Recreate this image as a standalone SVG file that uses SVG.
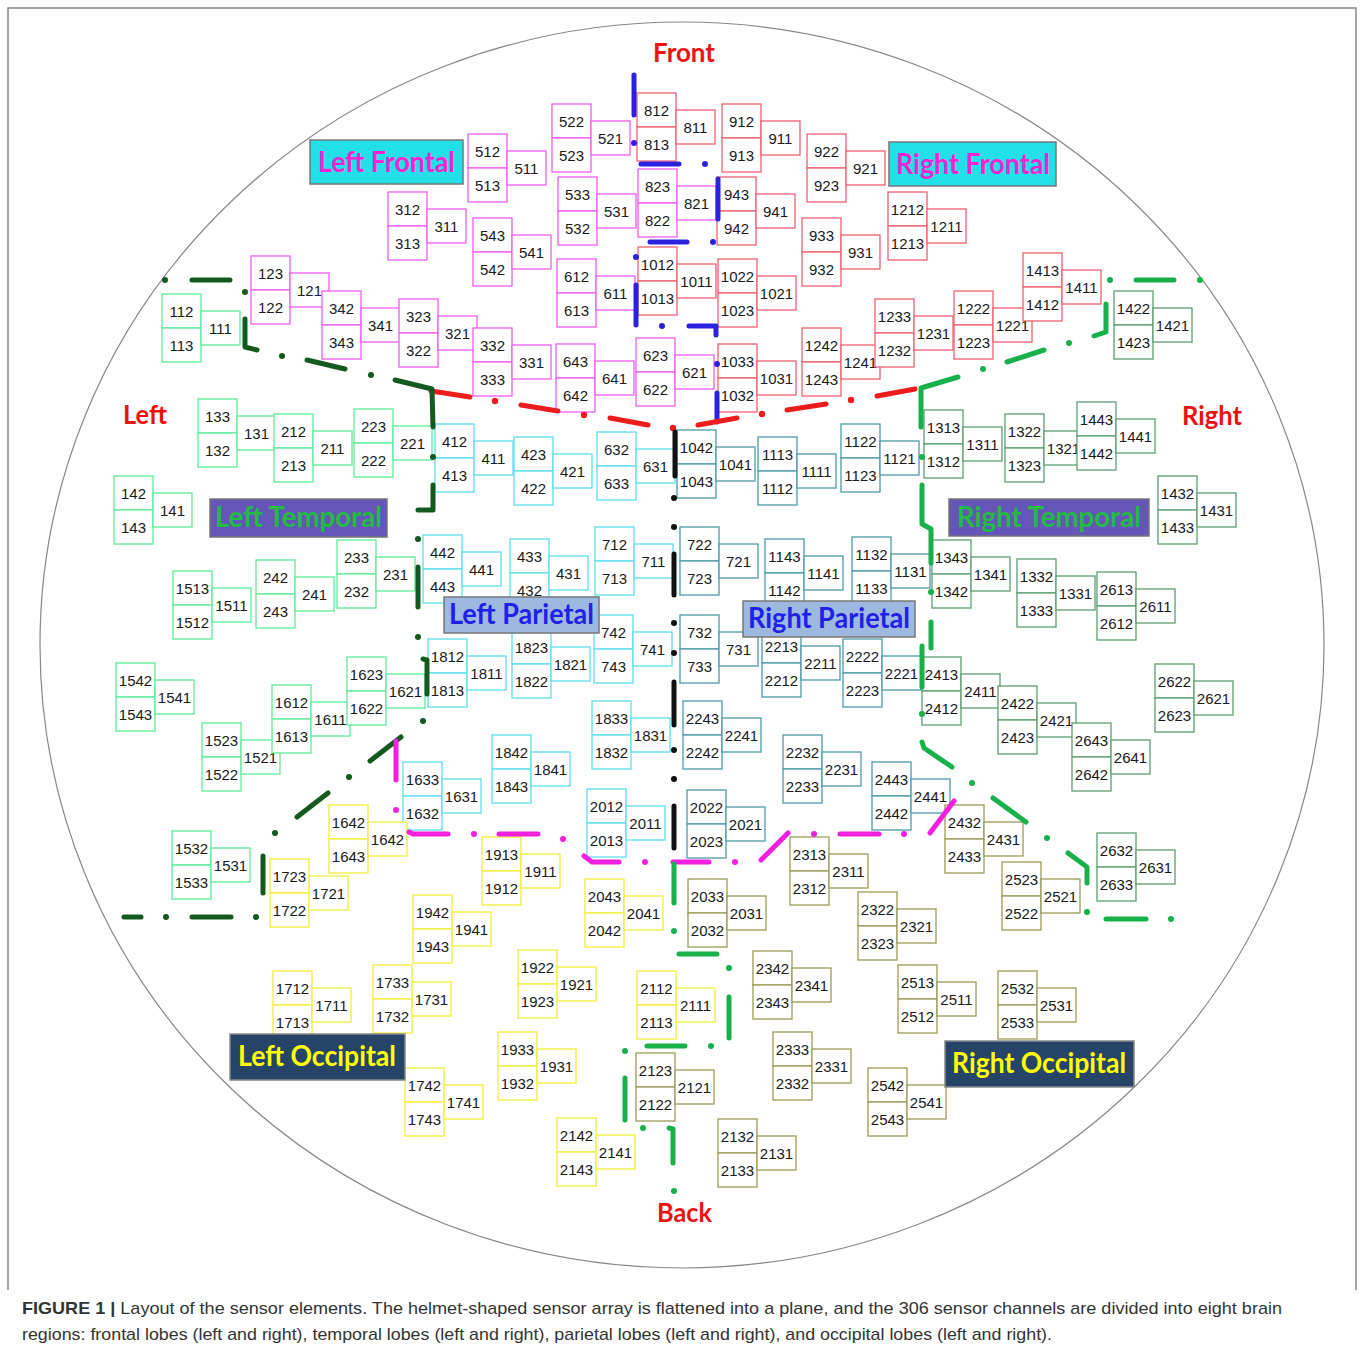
<svg xmlns="http://www.w3.org/2000/svg" xmlns:xlink="http://www.w3.org/1999/xlink" width="1360" height="1351" viewBox="0 0 1360 1351">
<style>
.s text{font-family:"Liberation Sans",Arial,sans-serif;font-size:15px;text-anchor:middle;fill:#1a1a1a}
.lf{color:#F25CF2}.rf{color:#F0606E}.lt{color:#5CEB97}.rt{color:#5E9E70}
.lp{color:#5CDDEE}.rp{color:#4E9AA8}.lo{color:#F2EE3A}.ro{color:#9B9B58}
.c path{fill:none;stroke-width:5;stroke-linecap:round;stroke-linejoin:round}
.bl path{stroke:#2B22E0}.bl circle{fill:#2B22E0}
.rd path{stroke:#EE1C1C}.rd circle{fill:#EE1C1C}
.dg path{stroke:#14591F}.dg circle{fill:#14591F}
.gr path{stroke:#17B04A}.gr circle{fill:#17B04A}
.bk path{stroke:#111}.bk circle{fill:#111}
.mg path{stroke:#F21FE0}.mg circle{fill:#F21FE0}
.dir{font-family:Lato,"Liberation Sans",sans-serif;font-weight:bold;font-size:27px;fill:#EE1111;text-anchor:middle}
.reg{font-family:Lato,"Liberation Sans",sans-serif;font-weight:bold;font-size:28px;text-anchor:middle}
.cap{font-family:"Liberation Sans",Arial,sans-serif;font-size:17px;fill:#333}
</style>
<defs>
<g id="b" fill="#fff" stroke="currentColor" stroke-width="1.3">
<rect x="0" y="0" width="39" height="34"/><rect x="0" y="34" width="39" height="34"/><rect x="39" y="17" width="39" height="34"/>
</g>
</defs>
<rect x="0" y="0" width="1360" height="1351" fill="#fff"/>
<path d="M8,1290 L8,8 L1356,8 L1356,1290" fill="none" stroke="#888" stroke-width="1.5"/>
<ellipse cx="682" cy="645" rx="642" ry="623" fill="none" stroke="#888" stroke-width="1.2"/>
<g id="sensors" class="s">
<g id="g121" class="lf" transform="translate(251,256)"><use xlink:href="#b"/><text x="19.5" y="22.5">123</text><text x="19.5" y="56.5">122</text><text x="58.5" y="39.5">121</text></g>
<g id="g341" class="lf" transform="translate(322,291)"><use xlink:href="#b"/><text x="19.5" y="22.5">342</text><text x="19.5" y="56.5">343</text><text x="58.5" y="39.5">341</text></g>
<g id="g311" class="lf" transform="translate(388,192)"><use xlink:href="#b"/><text x="19.5" y="22.5">312</text><text x="19.5" y="56.5">313</text><text x="58.5" y="39.5">311</text></g>
<g id="g511" class="lf" transform="translate(468,134)"><use xlink:href="#b"/><text x="19.5" y="22.5">512</text><text x="19.5" y="56.5">513</text><text x="58.5" y="39.5">511</text></g>
<g id="g521" class="lf" transform="translate(552,104)"><use xlink:href="#b"/><text x="19.5" y="22.5">522</text><text x="19.5" y="56.5">523</text><text x="58.5" y="39.5">521</text></g>
<g id="g531" class="lf" transform="translate(558,177)"><use xlink:href="#b"/><text x="19.5" y="22.5">533</text><text x="19.5" y="56.5">532</text><text x="58.5" y="39.5">531</text></g>
<g id="g541" class="lf" transform="translate(473,218)"><use xlink:href="#b"/><text x="19.5" y="22.5">543</text><text x="19.5" y="56.5">542</text><text x="58.5" y="39.5">541</text></g>
<g id="g611" class="lf" transform="translate(557,259)"><use xlink:href="#b"/><text x="19.5" y="22.5">612</text><text x="19.5" y="56.5">613</text><text x="58.5" y="39.5">611</text></g>
<g id="g321" class="lf" transform="translate(399,299)"><use xlink:href="#b"/><text x="19.5" y="22.5">323</text><text x="19.5" y="56.5">322</text><text x="58.5" y="39.5">321</text></g>
<g id="g331" class="lf" transform="translate(473,328)"><use xlink:href="#b"/><text x="19.5" y="22.5">332</text><text x="19.5" y="56.5">333</text><text x="58.5" y="39.5">331</text></g>
<g id="g641" class="lf" transform="translate(556,344)"><use xlink:href="#b"/><text x="19.5" y="22.5">643</text><text x="19.5" y="56.5">642</text><text x="58.5" y="39.5">641</text></g>
<g id="g621" class="lf" transform="translate(636,338)"><use xlink:href="#b"/><text x="19.5" y="22.5">623</text><text x="19.5" y="56.5">622</text><text x="58.5" y="39.5">621</text></g>
<g id="g821" class="lf" transform="translate(638,169)"><use xlink:href="#b"/><text x="19.5" y="22.5">823</text><text x="19.5" y="56.5">822</text><text x="58.5" y="39.5">821</text></g>
<g id="g811" class="rf" transform="translate(637,93)"><use xlink:href="#b"/><text x="19.5" y="22.5">812</text><text x="19.5" y="56.5">813</text><text x="58.5" y="39.5">811</text></g>
<g id="g911" class="rf" transform="translate(722,104)"><use xlink:href="#b"/><text x="19.5" y="22.5">912</text><text x="19.5" y="56.5">913</text><text x="58.5" y="39.5">911</text></g>
<g id="g921" class="rf" transform="translate(807,134)"><use xlink:href="#b"/><text x="19.5" y="22.5">922</text><text x="19.5" y="56.5">923</text><text x="58.5" y="39.5">921</text></g>
<g id="g931" class="rf" transform="translate(802,218)"><use xlink:href="#b"/><text x="19.5" y="22.5">933</text><text x="19.5" y="56.5">932</text><text x="58.5" y="39.5">931</text></g>
<g id="g941" class="rf" transform="translate(717,177)"><use xlink:href="#b"/><text x="19.5" y="22.5">943</text><text x="19.5" y="56.5">942</text><text x="58.5" y="39.5">941</text></g>
<g id="g1011" class="rf" transform="translate(638,247)"><use xlink:href="#b"/><text x="19.5" y="22.5">1012</text><text x="19.5" y="56.5">1013</text><text x="58.5" y="39.5">1011</text></g>
<g id="g1021" class="rf" transform="translate(718,259)"><use xlink:href="#b"/><text x="19.5" y="22.5">1022</text><text x="19.5" y="56.5">1023</text><text x="58.5" y="39.5">1021</text></g>
<g id="g1031" class="rf" transform="translate(718,344)"><use xlink:href="#b"/><text x="19.5" y="22.5">1033</text><text x="19.5" y="56.5">1032</text><text x="58.5" y="39.5">1031</text></g>
<g id="g1211" class="rf" transform="translate(888,192)"><use xlink:href="#b"/><text x="19.5" y="22.5">1212</text><text x="19.5" y="56.5">1213</text><text x="58.5" y="39.5">1211</text></g>
<g id="g1221" class="rf" transform="translate(954,291)"><use xlink:href="#b"/><text x="19.5" y="22.5">1222</text><text x="19.5" y="56.5">1223</text><text x="58.5" y="39.5">1221</text></g>
<g id="g1411" class="rf" transform="translate(1023,253)"><use xlink:href="#b"/><text x="19.5" y="22.5">1413</text><text x="19.5" y="56.5">1412</text><text x="58.5" y="39.5">1411</text></g>
<g id="g1241" class="rf" transform="translate(802,328)"><use xlink:href="#b"/><text x="19.5" y="22.5">1242</text><text x="19.5" y="56.5">1243</text><text x="58.5" y="39.5">1241</text></g>
<g id="g1231" class="rf" transform="translate(875,299)"><use xlink:href="#b"/><text x="19.5" y="22.5">1233</text><text x="19.5" y="56.5">1232</text><text x="58.5" y="39.5">1231</text></g>
<g id="g111" class="lt" transform="translate(162,294)"><use xlink:href="#b"/><text x="19.5" y="22.5">112</text><text x="19.5" y="56.5">113</text><text x="58.5" y="39.5">111</text></g>
<g id="g131" class="lt" transform="translate(198,399)"><use xlink:href="#b"/><text x="19.5" y="22.5">133</text><text x="19.5" y="56.5">132</text><text x="58.5" y="39.5">131</text></g>
<g id="g141" class="lt" transform="translate(114,476)"><use xlink:href="#b"/><text x="19.5" y="22.5">142</text><text x="19.5" y="56.5">143</text><text x="58.5" y="39.5">141</text></g>
<g id="g211" class="lt" transform="translate(274,414)"><use xlink:href="#b"/><text x="19.5" y="22.5">212</text><text x="19.5" y="56.5">213</text><text x="58.5" y="39.5">211</text></g>
<g id="g221" class="lt" transform="translate(354,409)"><use xlink:href="#b"/><text x="19.5" y="22.5">223</text><text x="19.5" y="56.5">222</text><text x="58.5" y="39.5">221</text></g>
<g id="g231" class="lt" transform="translate(337,540)"><use xlink:href="#b"/><text x="19.5" y="22.5">233</text><text x="19.5" y="56.5">232</text><text x="58.5" y="39.5">231</text></g>
<g id="g241" class="lt" transform="translate(256,560)"><use xlink:href="#b"/><text x="19.5" y="22.5">242</text><text x="19.5" y="56.5">243</text><text x="58.5" y="39.5">241</text></g>
<g id="g1511" class="lt" transform="translate(173,571)"><use xlink:href="#b"/><text x="19.5" y="22.5">1513</text><text x="19.5" y="56.5">1512</text><text x="58.5" y="39.5">1511</text></g>
<g id="g1521" class="lt" transform="translate(202,723)"><use xlink:href="#b"/><text x="19.5" y="22.5">1523</text><text x="19.5" y="56.5">1522</text><text x="58.5" y="39.5">1521</text></g>
<g id="g1531" class="lt" transform="translate(172,831)"><use xlink:href="#b"/><text x="19.5" y="22.5">1532</text><text x="19.5" y="56.5">1533</text><text x="58.5" y="39.5">1531</text></g>
<g id="g1541" class="lt" transform="translate(116,663)"><use xlink:href="#b"/><text x="19.5" y="22.5">1542</text><text x="19.5" y="56.5">1543</text><text x="58.5" y="39.5">1541</text></g>
<g id="g1611" class="lt" transform="translate(272,685)"><use xlink:href="#b"/><text x="19.5" y="22.5">1612</text><text x="19.5" y="56.5">1613</text><text x="58.5" y="39.5">1611</text></g>
<g id="g1621" class="lt" transform="translate(347,657)"><use xlink:href="#b"/><text x="19.5" y="22.5">1623</text><text x="19.5" y="56.5">1622</text><text x="58.5" y="39.5">1621</text></g>
<g id="g1311" class="rt" transform="translate(924,410)"><use xlink:href="#b"/><text x="19.5" y="22.5">1313</text><text x="19.5" y="56.5">1312</text><text x="58.5" y="39.5">1311</text></g>
<g id="g1321" class="rt" transform="translate(1005,414)"><use xlink:href="#b"/><text x="19.5" y="22.5">1322</text><text x="19.5" y="56.5">1323</text><text x="58.5" y="39.5">1321</text></g>
<g id="g1441" class="rt" transform="translate(1077,402)"><use xlink:href="#b"/><text x="19.5" y="22.5">1443</text><text x="19.5" y="56.5">1442</text><text x="58.5" y="39.5">1441</text></g>
<g id="g1331" class="rt" transform="translate(1017,559)"><use xlink:href="#b"/><text x="19.5" y="22.5">1332</text><text x="19.5" y="56.5">1333</text><text x="58.5" y="39.5">1331</text></g>
<g id="g1341" class="rt" transform="translate(932,540)"><use xlink:href="#b"/><text x="19.5" y="22.5">1343</text><text x="19.5" y="56.5">1342</text><text x="58.5" y="39.5">1341</text></g>
<g id="g1421" class="rt" transform="translate(1114,291)"><use xlink:href="#b"/><text x="19.5" y="22.5">1422</text><text x="19.5" y="56.5">1423</text><text x="58.5" y="39.5">1421</text></g>
<g id="g1431" class="rt" transform="translate(1158,476)"><use xlink:href="#b"/><text x="19.5" y="22.5">1432</text><text x="19.5" y="56.5">1433</text><text x="58.5" y="39.5">1431</text></g>
<g id="g2411" class="rt" transform="translate(922,657)"><use xlink:href="#b"/><text x="19.5" y="22.5">2413</text><text x="19.5" y="56.5">2412</text><text x="58.5" y="39.5">2411</text></g>
<g id="g2421" class="rt" transform="translate(998,686)"><use xlink:href="#b"/><text x="19.5" y="22.5">2422</text><text x="19.5" y="56.5">2423</text><text x="58.5" y="39.5">2421</text></g>
<g id="g2611" class="rt" transform="translate(1097,572)"><use xlink:href="#b"/><text x="19.5" y="22.5">2613</text><text x="19.5" y="56.5">2612</text><text x="58.5" y="39.5">2611</text></g>
<g id="g2621" class="rt" transform="translate(1155,664)"><use xlink:href="#b"/><text x="19.5" y="22.5">2622</text><text x="19.5" y="56.5">2623</text><text x="58.5" y="39.5">2621</text></g>
<g id="g2631" class="rt" transform="translate(1097,833)"><use xlink:href="#b"/><text x="19.5" y="22.5">2632</text><text x="19.5" y="56.5">2633</text><text x="58.5" y="39.5">2631</text></g>
<g id="g2641" class="rt" transform="translate(1072,723)"><use xlink:href="#b"/><text x="19.5" y="22.5">2643</text><text x="19.5" y="56.5">2642</text><text x="58.5" y="39.5">2641</text></g>
<g id="g411" class="lp" transform="translate(435,424)"><use xlink:href="#b"/><text x="19.5" y="22.5">412</text><text x="19.5" y="56.5">413</text><text x="58.5" y="39.5">411</text></g>
<g id="g421" class="lp" transform="translate(514,437)"><use xlink:href="#b"/><text x="19.5" y="22.5">423</text><text x="19.5" y="56.5">422</text><text x="58.5" y="39.5">421</text></g>
<g id="g431" class="lp" transform="translate(510,539)"><use xlink:href="#b"/><text x="19.5" y="22.5">433</text><text x="19.5" y="56.5">432</text><text x="58.5" y="39.5">431</text></g>
<g id="g441" class="lp" transform="translate(423,535)"><use xlink:href="#b"/><text x="19.5" y="22.5">442</text><text x="19.5" y="56.5">443</text><text x="58.5" y="39.5">441</text></g>
<g id="g631" class="lp" transform="translate(597,432)"><use xlink:href="#b"/><text x="19.5" y="22.5">632</text><text x="19.5" y="56.5">633</text><text x="58.5" y="39.5">631</text></g>
<g id="g711" class="lp" transform="translate(595,527)"><use xlink:href="#b"/><text x="19.5" y="22.5">712</text><text x="19.5" y="56.5">713</text><text x="58.5" y="39.5">711</text></g>
<g id="g741" class="lp" transform="translate(594,615)"><use xlink:href="#b"/><text x="19.5" y="22.5">742</text><text x="19.5" y="56.5">743</text><text x="58.5" y="39.5">741</text></g>
<g id="g1811" class="lp" transform="translate(428,639)"><use xlink:href="#b"/><text x="19.5" y="22.5">1812</text><text x="19.5" y="56.5">1813</text><text x="58.5" y="39.5">1811</text></g>
<g id="g1821" class="lp" transform="translate(512,630)"><use xlink:href="#b"/><text x="19.5" y="22.5">1823</text><text x="19.5" y="56.5">1822</text><text x="58.5" y="39.5">1821</text></g>
<g id="g1631" class="lp" transform="translate(403,762)"><use xlink:href="#b"/><text x="19.5" y="22.5">1633</text><text x="19.5" y="56.5">1632</text><text x="58.5" y="39.5">1631</text></g>
<g id="g1841" class="lp" transform="translate(492,735)"><use xlink:href="#b"/><text x="19.5" y="22.5">1842</text><text x="19.5" y="56.5">1843</text><text x="58.5" y="39.5">1841</text></g>
<g id="g1831" class="lp" transform="translate(592,701)"><use xlink:href="#b"/><text x="19.5" y="22.5">1833</text><text x="19.5" y="56.5">1832</text><text x="58.5" y="39.5">1831</text></g>
<g id="g2011" class="lp" transform="translate(587,789)"><use xlink:href="#b"/><text x="19.5" y="22.5">2012</text><text x="19.5" y="56.5">2013</text><text x="58.5" y="39.5">2011</text></g>
<g id="g1041" class="rp" transform="translate(677,430)"><use xlink:href="#b"/><text x="19.5" y="22.5">1042</text><text x="19.5" y="56.5">1043</text><text x="58.5" y="39.5">1041</text></g>
<g id="g1111" class="rp" transform="translate(758,437)"><use xlink:href="#b"/><text x="19.5" y="22.5">1113</text><text x="19.5" y="56.5">1112</text><text x="58.5" y="39.5">1111</text></g>
<g id="g1121" class="rp" transform="translate(841,424)"><use xlink:href="#b"/><text x="19.5" y="22.5">1122</text><text x="19.5" y="56.5">1123</text><text x="58.5" y="39.5">1121</text></g>
<g id="g1131" class="rp" transform="translate(852,537)"><use xlink:href="#b"/><text x="19.5" y="22.5">1132</text><text x="19.5" y="56.5">1133</text><text x="58.5" y="39.5">1131</text></g>
<g id="g1141" class="rp" transform="translate(765,539)"><use xlink:href="#b"/><text x="19.5" y="22.5">1143</text><text x="19.5" y="56.5">1142</text><text x="58.5" y="39.5">1141</text></g>
<g id="g721" class="rp" transform="translate(680,527)"><use xlink:href="#b"/><text x="19.5" y="22.5">722</text><text x="19.5" y="56.5">723</text><text x="58.5" y="39.5">721</text></g>
<g id="g731" class="rp" transform="translate(680,615)"><use xlink:href="#b"/><text x="19.5" y="22.5">732</text><text x="19.5" y="56.5">733</text><text x="58.5" y="39.5">731</text></g>
<g id="g2211" class="rp" transform="translate(762,629)"><use xlink:href="#b"/><text x="19.5" y="22.5">2213</text><text x="19.5" y="56.5">2212</text><text x="58.5" y="39.5">2211</text></g>
<g id="g2221" class="rp" transform="translate(843,639)"><use xlink:href="#b"/><text x="19.5" y="22.5">2222</text><text x="19.5" y="56.5">2223</text><text x="58.5" y="39.5">2221</text></g>
<g id="g2241" class="rp" transform="translate(683,701)"><use xlink:href="#b"/><text x="19.5" y="22.5">2243</text><text x="19.5" y="56.5">2242</text><text x="58.5" y="39.5">2241</text></g>
<g id="g2231" class="rp" transform="translate(783,735)"><use xlink:href="#b"/><text x="19.5" y="22.5">2232</text><text x="19.5" y="56.5">2233</text><text x="58.5" y="39.5">2231</text></g>
<g id="g2441" class="rp" transform="translate(872,762)"><use xlink:href="#b"/><text x="19.5" y="22.5">2443</text><text x="19.5" y="56.5">2442</text><text x="58.5" y="39.5">2441</text></g>
<g id="g2021" class="rp" transform="translate(687,790)"><use xlink:href="#b"/><text x="19.5" y="22.5">2022</text><text x="19.5" y="56.5">2023</text><text x="58.5" y="39.5">2021</text></g>
<g id="g1641" class="lo" transform="translate(329,805)"><use xlink:href="#b"/><text x="19.5" y="22.5">1642</text><text x="19.5" y="56.5">1643</text><text x="58.5" y="39.5">1642</text></g>
<g id="g1721" class="lo" transform="translate(270,859)"><use xlink:href="#b"/><text x="19.5" y="22.5">1723</text><text x="19.5" y="56.5">1722</text><text x="58.5" y="39.5">1721</text></g>
<g id="g1711" class="lo" transform="translate(273,971)"><use xlink:href="#b"/><text x="19.5" y="22.5">1712</text><text x="19.5" y="56.5">1713</text><text x="58.5" y="39.5">1711</text></g>
<g id="g1731" class="lo" transform="translate(373,965)"><use xlink:href="#b"/><text x="19.5" y="22.5">1733</text><text x="19.5" y="56.5">1732</text><text x="58.5" y="39.5">1731</text></g>
<g id="g1741" class="lo" transform="translate(405,1068)"><use xlink:href="#b"/><text x="19.5" y="22.5">1742</text><text x="19.5" y="56.5">1743</text><text x="58.5" y="39.5">1741</text></g>
<g id="g1911" class="lo" transform="translate(482,837)"><use xlink:href="#b"/><text x="19.5" y="22.5">1913</text><text x="19.5" y="56.5">1912</text><text x="58.5" y="39.5">1911</text></g>
<g id="g1921" class="lo" transform="translate(518,950)"><use xlink:href="#b"/><text x="19.5" y="22.5">1922</text><text x="19.5" y="56.5">1923</text><text x="58.5" y="39.5">1921</text></g>
<g id="g1931" class="lo" transform="translate(498,1032)"><use xlink:href="#b"/><text x="19.5" y="22.5">1933</text><text x="19.5" y="56.5">1932</text><text x="58.5" y="39.5">1931</text></g>
<g id="g1941" class="lo" transform="translate(413,895)"><use xlink:href="#b"/><text x="19.5" y="22.5">1942</text><text x="19.5" y="56.5">1943</text><text x="58.5" y="39.5">1941</text></g>
<g id="g2041" class="lo" transform="translate(585,879)"><use xlink:href="#b"/><text x="19.5" y="22.5">2043</text><text x="19.5" y="56.5">2042</text><text x="58.5" y="39.5">2041</text></g>
<g id="g2111" class="lo" transform="translate(637,971)"><use xlink:href="#b"/><text x="19.5" y="22.5">2112</text><text x="19.5" y="56.5">2113</text><text x="58.5" y="39.5">2111</text></g>
<g id="g2141" class="lo" transform="translate(557,1118)"><use xlink:href="#b"/><text x="19.5" y="22.5">2142</text><text x="19.5" y="56.5">2143</text><text x="58.5" y="39.5">2141</text></g>
<g id="g2031" class="ro" transform="translate(688,879)"><use xlink:href="#b"/><text x="19.5" y="22.5">2033</text><text x="19.5" y="56.5">2032</text><text x="58.5" y="39.5">2031</text></g>
<g id="g2121" class="ro" transform="translate(636,1053)"><use xlink:href="#b"/><text x="19.5" y="22.5">2123</text><text x="19.5" y="56.5">2122</text><text x="58.5" y="39.5">2121</text></g>
<g id="g2131" class="ro" transform="translate(718,1119)"><use xlink:href="#b"/><text x="19.5" y="22.5">2132</text><text x="19.5" y="56.5">2133</text><text x="58.5" y="39.5">2131</text></g>
<g id="g2311" class="ro" transform="translate(790,837)"><use xlink:href="#b"/><text x="19.5" y="22.5">2313</text><text x="19.5" y="56.5">2312</text><text x="58.5" y="39.5">2311</text></g>
<g id="g2321" class="ro" transform="translate(858,892)"><use xlink:href="#b"/><text x="19.5" y="22.5">2322</text><text x="19.5" y="56.5">2323</text><text x="58.5" y="39.5">2321</text></g>
<g id="g2331" class="ro" transform="translate(773,1032)"><use xlink:href="#b"/><text x="19.5" y="22.5">2333</text><text x="19.5" y="56.5">2332</text><text x="58.5" y="39.5">2331</text></g>
<g id="g2341" class="ro" transform="translate(753,951)"><use xlink:href="#b"/><text x="19.5" y="22.5">2342</text><text x="19.5" y="56.5">2343</text><text x="58.5" y="39.5">2341</text></g>
<g id="g2431" class="ro" transform="translate(945,805)"><use xlink:href="#b"/><text x="19.5" y="22.5">2432</text><text x="19.5" y="56.5">2433</text><text x="58.5" y="39.5">2431</text></g>
<g id="g2511" class="ro" transform="translate(898,965)"><use xlink:href="#b"/><text x="19.5" y="22.5">2513</text><text x="19.5" y="56.5">2512</text><text x="58.5" y="39.5">2511</text></g>
<g id="g2521" class="ro" transform="translate(1002,862)"><use xlink:href="#b"/><text x="19.5" y="22.5">2523</text><text x="19.5" y="56.5">2522</text><text x="58.5" y="39.5">2521</text></g>
<g id="g2531" class="ro" transform="translate(998,971)"><use xlink:href="#b"/><text x="19.5" y="22.5">2532</text><text x="19.5" y="56.5">2533</text><text x="58.5" y="39.5">2531</text></g>
<g id="g2541" class="ro" transform="translate(868,1068)"><use xlink:href="#b"/><text x="19.5" y="22.5">2542</text><text x="19.5" y="56.5">2543</text><text x="58.5" y="39.5">2541</text></g>
</g>
<g id="connectors" class="c">
<g class="bl"><path d="M634,75 L634,115 M641,164 L679,164 M718,179 L718,219 M650,242 L687,242 M636,285 L636,325 M689,326 L716,326 L716,335 M717,393 L717,422"/>
<circle cx="634" cy="143" r="3"/><circle cx="705" cy="164" r="3"/><circle cx="713" cy="242" r="3"/><circle cx="636" cy="257" r="3"/><circle cx="662" cy="326" r="3"/><circle cx="717" cy="364" r="3"/></g>
<g class="rd"><path d="M431,391 L470,397 M521,405 L558,411 M610,418 L648,425 M698,425 L737,418 M787,410 L826,404 M877,396 L915,389"/>
<circle cx="495" cy="401" r="3.2"/><circle cx="584" cy="415" r="3.2"/><circle cx="673" cy="428" r="3.2"/><circle cx="762" cy="414" r="3.2"/><circle cx="851" cy="400" r="3.2"/></g>
<g class="dg"><path d="M192,280 L230,280 M245,319 L245,347 L257,350 M307,360 L345,369 M395,380 L432,389 L433,427 M433,485 L433,510 L418,510 M418,567 L418,607 M423,659 L427,660 L427,694 M401,737 L370,761 M328,793 L297,817 M263,856 L263,893 M192,917 L231,917 M124,917 L141,917"/>
<circle cx="165" cy="280" r="3"/><circle cx="245" cy="292" r="3"/><circle cx="282" cy="356" r="3"/><circle cx="371" cy="375" r="3"/><circle cx="433" cy="457" r="3"/><circle cx="418" cy="539" r="3"/><circle cx="418" cy="637" r="3"/><circle cx="423" cy="721" r="3"/><circle cx="349" cy="777" r="3"/><circle cx="275" cy="833" r="3"/><circle cx="256" cy="917" r="3"/><circle cx="166" cy="917" r="3"/></g>
<g class="gr"><path d="M1136,280 L1174,280 M1106,304 L1106,332 L1094,336 M1044,350 L1007,362 M958,377 L921,388 L921,427 M922,485 L922,524 L931,529 L931,563 M931,622 L931,648 M922,646 L922,687 M922,742 L924,748 L952,767 M993,798 L1026,822 M1068,853 L1087,867 L1087,883 M1106,919 L1146,919"/>
<circle cx="1200" cy="280" r="3"/><circle cx="1110" cy="280" r="3"/><circle cx="1069" cy="343" r="3"/><circle cx="983" cy="369" r="3"/><circle cx="922" cy="457" r="3"/><circle cx="931" cy="592" r="3"/><circle cx="922" cy="714" r="3"/><circle cx="972" cy="783" r="3"/><circle cx="1047" cy="838" r="3"/><circle cx="1087" cy="912" r="3"/><circle cx="1171" cy="919" r="3"/></g>
<g class="bk"><path d="M675,432 L675,476 M674,554 L674,595 M674,682 L674,725 M674,806 L674,848"/>
<circle cx="674" cy="498" r="3"/><circle cx="674" cy="527" r="3"/><circle cx="674" cy="623" r="3"/><circle cx="674" cy="653" r="3"/><circle cx="674" cy="750" r="3"/><circle cx="674" cy="779" r="3"/></g>
<g class="mg"><path d="M396,741 L396,780 M409,832 L413,834 L448,834 M499,834 L538,834 M584,856 L592,862 L619,862 M673,862 L709,862 M761,860 L788,833 M840,834 L879,834 M930,833 L954,801"/>
<circle cx="396" cy="810" r="3"/><circle cx="474" cy="834" r="3"/><circle cx="563" cy="839" r="3"/><circle cx="645" cy="862" r="3"/><circle cx="735" cy="862" r="3"/><circle cx="814" cy="834" r="3"/><circle cx="904" cy="834" r="3"/></g>
<g class="gr"><path d="M674,864 L674,903 M679,954 L717,954 M729,997 L729,1038 M647,1046 L685,1046 M625,1078 L625,1120 M669,1128 L673,1129 L673,1163"/>
<circle cx="674" cy="931" r="3"/><circle cx="729" cy="968" r="3"/><circle cx="711" cy="1046" r="3"/><circle cx="625" cy="1051" r="3"/><circle cx="643" cy="1128" r="3"/><circle cx="674" cy="1191" r="3"/></g>
</g>
<g id="regions">
<g id="r-lf"><rect x="310" y="140" width="153" height="44" fill="#22E0E8" stroke="#777" stroke-width="1.5"/><text class="reg" x="386.5" y="172" fill="#F524D0" textLength="137" lengthAdjust="spacingAndGlyphs">Left Frontal</text></g>
<g id="r-rf"><rect x="889" y="142" width="167" height="44" fill="#22E0E8" stroke="#777" stroke-width="1.5"/><text class="reg" x="973" y="174" fill="#F524D0" textLength="154" lengthAdjust="spacingAndGlyphs">Right Frontal</text></g>
<g id="r-lt"><rect x="210" y="499" width="177" height="38" fill="#6655B8" stroke="#777" stroke-width="1.5"/><text class="reg" x="298.5" y="527" fill="#22BB44" textLength="167" lengthAdjust="spacingAndGlyphs">Left Temporal</text></g>
<g id="r-rt"><rect x="949" y="499" width="200" height="37" fill="#6655B8" stroke="#777" stroke-width="1.5"/><text class="reg" x="1049" y="527" fill="#22BB44" textLength="184" lengthAdjust="spacingAndGlyphs">Right Temporal</text></g>
<g id="r-lp"><rect x="444" y="597" width="155" height="36" fill="#9DB9E0" stroke="#777" stroke-width="1.5"/><text class="reg" x="521.5" y="624" fill="#2020E8" textLength="145" lengthAdjust="spacingAndGlyphs">Left Parietal</text></g>
<g id="r-rp"><rect x="743" y="601" width="172" height="36" fill="#9DB9E0" stroke="#777" stroke-width="1.5"/><text class="reg" x="829" y="628" fill="#2020E8" textLength="162" lengthAdjust="spacingAndGlyphs">Right Parietal</text></g>
<g id="r-lo"><rect x="230" y="1034" width="175" height="46" fill="#264468" stroke="#888" stroke-width="1.5"/><text class="reg" x="317" y="1066" fill="#FFFF00" textLength="158" lengthAdjust="spacingAndGlyphs">Left Occipital</text></g>
<g id="r-ro"><rect x="945" y="1041" width="189" height="46" fill="#264468" stroke="#888" stroke-width="1.5"/><text class="reg" x="1039" y="1073" fill="#FFFF00" textLength="174" lengthAdjust="spacingAndGlyphs">Right Occipital</text></g>
</g>
<g id="directions">
<text class="dir" x="684" y="62" textLength="62" lengthAdjust="spacingAndGlyphs">Front</text>
<text class="dir" x="145" y="424" textLength="44" lengthAdjust="spacingAndGlyphs">Left</text>
<text class="dir" x="1212" y="425" textLength="60" lengthAdjust="spacingAndGlyphs">Right</text>
<text class="dir" x="684.5" y="1222" textLength="55" lengthAdjust="spacingAndGlyphs">Back</text>
</g>
<g id="caption">
<text class="cap" x="22" y="1314" textLength="1260" lengthAdjust="spacingAndGlyphs"><tspan font-weight="bold">FIGURE 1 |</tspan> Layout of the sensor elements. The helmet-shaped sensor array is flattened into a plane, and the 306 sensor channels are divided into eight brain</text>
<text class="cap" x="22" y="1340" textLength="1030" lengthAdjust="spacingAndGlyphs">regions: frontal lobes (left and right), temporal lobes (left and right), parietal lobes (left and right), and occipital lobes (left and right).</text>
</g>
</svg>
